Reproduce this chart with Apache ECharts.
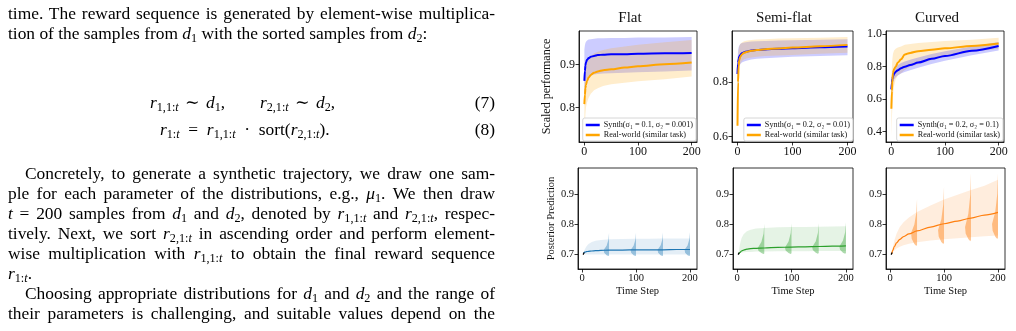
<!DOCTYPE html>
<html lang="en">
<head>
<meta charset="UTF-8" />
<title>Synthetic vs real-world curves</title>
<script src="https://cdn.jsdelivr.net/npm/echarts@6/dist/echarts.min.js"></script>
<style>
  body { margin: 0; background: #fff; }
  #main { position: absolute; left: 0; top: 0; width: 1016px; height: 331px; }
  #text { position: absolute; left: 0; top: 0; width: 510px; height: 331px;
          font-family: "Liberation Serif", "DejaVu Serif", serif; font-size: 17.4px; color: #000; }
  .ln { position: absolute; left: 8px; width: 487px; line-height: 20px; white-space: nowrap; }
  .j { text-align: justify; text-align-last: justify; }
  .ind { left: 25px; width: 470px; }
  .num { position: absolute; left: 440px; width: 55px; text-align: right; line-height: 20px; }
  sub { font-size: 70%; vertical-align: -0.28em; line-height: 0; }
  sub i { font-style: italic; }
  .eq { word-spacing: 2px; }
</style>
</head>
<body>
<div id="main"></div>
<div id="text">
  <div class="ln j" style="top:3px">time. The reward sequence is generated by element-wise multiplica-</div>
  <div class="ln" style="top:23px">tion of the samples from <i>d</i><sub>1</sub> with the sorted samples from <i>d</i><sub>2</sub>:</div>

  <div class="ln eq" style="top:92px;left:150px;width:auto"><i>r</i><sub>1,1:<i>t</i></sub> &#8764; <i>d</i><sub>1</sub>,&emsp;&emsp;<i>r</i><sub>2,1:<i>t</i></sub> &#8764; <i>d</i><sub>2</sub>,</div>
  <div class="num" style="top:92px">(7)</div>
  <div class="ln eq" style="top:119px;left:160px;width:auto"><i>r</i><sub>1:<i>t</i></sub>&ensp;=&ensp;<i>r</i><sub>1,1:<i>t</i></sub>&ensp;&middot;&ensp;sort(<i>r</i><sub>2,1:<i>t</i></sub>).</div>
  <div class="num" style="top:119px">(8)</div>

  <div class="ln j ind" style="top:163px">Concretely, to generate a synthetic trajectory, we draw one sam-</div>
  <div class="ln j" style="top:183px">ple for each parameter of the distributions, e.g., <i>&mu;</i><sub>1</sub>. We then draw</div>
  <div class="ln j" style="top:203px"><i>t</i> = 200 samples from <i>d</i><sub>1</sub> and <i>d</i><sub>2</sub>, denoted by <i>r</i><sub>1,1:<i>t</i></sub> and <i>r</i><sub>2,1:<i>t</i></sub>, respec-</div>
  <div class="ln j" style="top:223px">tively. Next, we sort <i>r</i><sub>2,1:<i>t</i></sub> in ascending order and perform element-</div>
  <div class="ln j" style="top:243px">wise multiplication with <i>r</i><sub>1,1:<i>t</i></sub> to obtain the final reward sequence</div>
  <div class="ln" style="top:263px"><i>r</i><sub>1:<i>t</i></sub>.</div>
  <div class="ln j ind" style="top:283px">Choosing appropriate distributions for <i>d</i><sub>1</sub> and <i>d</i><sub>2</sub> and the range of</div>
  <div class="ln j" style="top:303px">their parameters is challenging, and suitable values depend on the</div>
</div>
<script>
// ---- top row: scaled performance (x = step) ----
var topX = [0, 1, 2, 3, 5, 8, 12, 18, 25, 35, 50, 75, 100, 150, 200];

var flatSynth    = [0.862, 0.885, 0.898, 0.905, 0.911, 0.915, 0.918, 0.920, 0.922, 0.923, 0.924, 0.924, 0.925, 0.926, 0.927];
var flatSynthLo  = [0.800, 0.830, 0.850, 0.860, 0.868, 0.872, 0.875, 0.877, 0.878, 0.879, 0.880, 0.881, 0.882, 0.884, 0.886];
var flatSynthHi  = [0.935, 0.945, 0.950, 0.953, 0.956, 0.958, 0.959, 0.960, 0.961, 0.961, 0.962, 0.962, 0.963, 0.963, 0.964];
var flatReal     = [0.808, 0.830, 0.845, 0.853, 0.862, 0.870, 0.876, 0.881, 0.884, 0.887, 0.889, 0.893, 0.896, 0.901, 0.905];
var flatRealLo   = [0.722, 0.760, 0.785, 0.800, 0.812, 0.823, 0.832, 0.840, 0.845, 0.850, 0.854, 0.858, 0.861, 0.866, 0.872];
var flatRealHi   = [0.860, 0.875, 0.888, 0.895, 0.905, 0.913, 0.920, 0.926, 0.930, 0.934, 0.938, 0.942, 0.946, 0.952, 0.957];

var semiSynth    = [0.830, 0.870, 0.885, 0.893, 0.900, 0.906, 0.910, 0.913, 0.916, 0.918, 0.920, 0.923, 0.925, 0.928, 0.931];
var semiSynthLo  = [0.770, 0.820, 0.845, 0.858, 0.866, 0.872, 0.876, 0.880, 0.883, 0.886, 0.888, 0.891, 0.893, 0.896, 0.899];
var semiSynthHi  = [0.880, 0.915, 0.928, 0.934, 0.940, 0.944, 0.946, 0.948, 0.949, 0.950, 0.951, 0.953, 0.954, 0.956, 0.958];
var semiReal     = [0.640, 0.800, 0.860, 0.880, 0.893, 0.902, 0.908, 0.912, 0.915, 0.918, 0.921, 0.924, 0.927, 0.932, 0.937];
var semiRealLo   = [0.590, 0.740, 0.820, 0.850, 0.868, 0.878, 0.884, 0.888, 0.891, 0.893, 0.896, 0.898, 0.900, 0.904, 0.908];
var semiRealHi   = [0.700, 0.880, 0.915, 0.930, 0.940, 0.946, 0.950, 0.953, 0.955, 0.957, 0.958, 0.960, 0.961, 0.963, 0.966];

var curvSynth    = [0.660, 0.700, 0.725, 0.740, 0.755, 0.768, 0.778, 0.790, 0.800, 0.810, 0.825, 0.848, 0.866, 0.898, 0.927];
var curvSynthLo  = [0.620, 0.660, 0.690, 0.705, 0.720, 0.735, 0.745, 0.757, 0.767, 0.778, 0.793, 0.816, 0.836, 0.870, 0.900];
var curvSynthHi  = [0.700, 0.740, 0.760, 0.775, 0.790, 0.800, 0.810, 0.822, 0.832, 0.842, 0.857, 0.878, 0.895, 0.925, 0.952];
var curvReal     = [0.540, 0.650, 0.720, 0.760, 0.785, 0.800, 0.825, 0.845, 0.875, 0.885, 0.895, 0.905, 0.913, 0.928, 0.943];
var curvRealLo   = [0.370, 0.480, 0.560, 0.620, 0.680, 0.720, 0.745, 0.760, 0.780, 0.800, 0.815, 0.840, 0.860, 0.890, 0.910];
var curvRealHi   = [0.700, 0.800, 0.850, 0.880, 0.900, 0.910, 0.918, 0.925, 0.935, 0.940, 0.946, 0.952, 0.958, 0.966, 0.978];

// ---- bottom row: posterior prediction ----
var botX = [3, 5, 8, 12, 18, 25, 35, 50, 75, 100, 125, 150, 175, 200];

var flatPost     = [0.703, 0.706, 0.708, 0.709, 0.710, 0.711, 0.712, 0.713, 0.713, 0.714, 0.714, 0.714, 0.715, 0.715];
var flatPostLo   = [0.700, 0.699, 0.699, 0.698, 0.698, 0.698, 0.698, 0.698, 0.698, 0.698, 0.698, 0.698, 0.698, 0.698];
var flatPostHi   = [0.705, 0.715, 0.725, 0.733, 0.740, 0.744, 0.747, 0.749, 0.750, 0.751, 0.751, 0.752, 0.752, 0.752];
var semiPost     = [0.700, 0.705, 0.710, 0.713, 0.716, 0.718, 0.719, 0.720, 0.722, 0.723, 0.724, 0.725, 0.726, 0.727];
var semiPostLo   = [0.700, 0.703, 0.705, 0.706, 0.707, 0.707, 0.708, 0.708, 0.709, 0.709, 0.709, 0.710, 0.710, 0.710];
var semiPostHi   = [0.705, 0.730, 0.752, 0.766, 0.776, 0.781, 0.785, 0.787, 0.789, 0.790, 0.790, 0.791, 0.792, 0.793];
var curvPost     = [0.700, 0.712, 0.725, 0.737, 0.749, 0.758, 0.767, 0.777, 0.790, 0.801, 0.810, 0.820, 0.830, 0.839];
var curvPostLo   = [0.700, 0.705, 0.712, 0.718, 0.724, 0.729, 0.734, 0.739, 0.745, 0.749, 0.753, 0.756, 0.759, 0.762];
var curvPostHi   = [0.700, 0.720, 0.745, 0.768, 0.790, 0.806, 0.822, 0.840, 0.862, 0.882, 0.898, 0.914, 0.928, 0.948];

// violins: [step, low, bulge, high, width]
var flatViolins = [[50, 0.693, 0.713, 0.770, 10], [100, 0.693, 0.713, 0.771, 10], [150, 0.693, 0.714, 0.772, 10], [200, 0.693, 0.714, 0.773, 10]];
var semiViolins = [[50, 0.700, 0.720, 0.800, 12], [100, 0.700, 0.722, 0.802, 12], [150, 0.701, 0.723, 0.803, 12], [200, 0.701, 0.725, 0.805, 12]];
var curvViolins = [[50, 0.727, 0.770, 0.883, 11], [100, 0.733, 0.780, 0.924, 11], [150, 0.743, 0.790, 0.969, 11], [200, 0.750, 0.800, 0.969, 11]];

// first observed points (black)
var obsX = [2, 4];
var obsY = [0.698, 0.705];

var BLUE = '#0000ff', ORANGE = '#ffa500';
var FONT = '"Liberation Serif", "DejaVu Serif", serif';

function band(gi, xs, lo, hi, fill) {
  return {
    type: 'custom', xAxisIndex: gi, yAxisIndex: gi, silent: true, z: 1,
    data: xs.map(function (x, i) { return [x, lo[i], hi[i]]; }),
    renderItem: function (params, api) {
      if (params.dataIndex !== 0) return null;
      var pts = [];
      for (var i = 0; i < xs.length; i++) pts.push(api.coord([xs[i], hi[i]]));
      for (var j = xs.length - 1; j >= 0; j--) pts.push(api.coord([xs[j], lo[j]]));
      return { type: 'polygon', shape: { points: pts }, style: { fill: fill } };
    }
  };
}

function line(gi, name, xs, ys, color, width) {
  return {
    type: 'line', name: name, xAxisIndex: gi, yAxisIndex: gi, silent: true, z: 3,
    data: xs.map(function (x, i) { return [x, ys[i]]; }),
    symbol: 'none', smooth: 0.3, smoothMonotone: 'x',
    lineStyle: { color: color, width: width }, itemStyle: { color: color }
  };
}

function violins(gi, list, fill) {
  return {
    type: 'custom', xAxisIndex: gi, yAxisIndex: gi, silent: true, z: 2,
    data: list,
    renderItem: function (params, api) {
      var x = api.value(0), lo = api.value(1), pk = api.value(2), hi = api.value(3), w = api.value(4);
      var shape = [
        [x, hi], [x - 0.12 * w, pk + 0.6 * (hi - pk)], [x - 0.45 * w, pk + 0.25 * (hi - pk)],
        [x - w, pk], [x - 0.9 * w, pk - 0.45 * (pk - lo)], [x - 0.45 * w, lo + 0.15 * (pk - lo)],
        [x - 0.12 * w, lo], [x, lo + 0.1 * (pk - lo)]
      ];
      return { type: 'polygon', shape: { points: shape.map(function (p) { return api.coord(p); }) },
               style: { fill: fill } };
    }
  };
}

var grids = [
  { left: 579, top: 31, width: 118, height: 111 },
  { left: 732, top: 31, width: 121, height: 111 },
  { left: 886, top: 31, width: 118, height: 111 },
  { left: 578, top: 168, width: 119, height: 101 },
  { left: 733, top: 168, width: 120, height: 101 },
  { left: 886, top: 168, width: 119, height: 101 }
];
var xRanges = [[-10, 210], [-10, 210], [-10, 210], [-7.5, 213], [-7.5, 213], [-7.5, 213]];
var yRanges = [[0.72, 0.978], [0.58, 0.988], [0.335, 1.02], [0.65, 0.987], [0.65, 0.987], [0.65, 0.987]];
var yTicks = [[0.8, 0.9], [0.6, 0.8], [0.4, 0.6, 0.8, 1.0], [0.7, 0.8, 0.9], [0.7, 0.8, 0.9], [0.7, 0.8, 0.9]];
var xTicks = [0, 100, 200];

var xAxes = [], yAxes = [];
grids.forEach(function (g, i) {
  var top = i < 3;
  var fs = top ? 12 : 10.5;
  xAxes.push({
    type: 'value', gridIndex: i, min: xRanges[i][0], max: xRanges[i][1],
    name: top ? '' : 'Time Step', nameLocation: 'middle', nameGap: 17,
    nameTextStyle: { fontSize: 10.5, fontFamily: FONT, color: '#111' },
    axisLine: { show: true, onZero: false, lineStyle: { color: '#000', width: 0.8 } },
    axisTick: { show: true, length: 3.5, customValues: xTicks, lineStyle: { color: '#000', width: 0.8 } },
    axisLabel: { customValues: xTicks, margin: 4, fontSize: fs, fontFamily: FONT, color: '#111' },
    splitLine: { show: false }
  });
  yAxes.push({
    type: 'value', gridIndex: i, min: yRanges[i][0], max: yRanges[i][1],
    name: i === 0 ? 'Scaled performance' : (i === 3 ? 'Posterior Prediction' : ''),
    nameLocation: 'middle', nameGap: i === 0 ? 26 : 21,
    nameTextStyle: { fontSize: i === 0 ? 12 : 10.5, fontFamily: FONT, color: '#111' },
    axisLine: { show: true, onZero: false, lineStyle: { color: '#000', width: 0.8 } },
    axisTick: { show: true, length: 3.5, customValues: yTicks[i], lineStyle: { color: '#000', width: 0.8 } },
    axisLabel: { customValues: yTicks[i], margin: 4, fontSize: fs, fontFamily: FONT, color: '#111',
                 formatter: function (v) { return v.toFixed(1); } },
    splitLine: { show: false }
  });
});

var synthNames = ['Synth(\u03c3\u2081 = 0.1, \u03c3\u2082 = 0.001)', 'Synth(\u03c3\u2081 = 0.2, \u03c3\u2082 = 0.01)', 'Synth(\u03c3\u2081 = 0.2, \u03c3\u2082 = 0.1)'];
var realName = 'Real-world (similar task)';
var blueBand = 'rgba(0,0,255,0.2)', orangeBand = 'rgba(255,165,0,0.2)';

var series = [
  band(0, topX, flatSynthLo, flatSynthHi, blueBand),
  band(0, topX, flatRealLo, flatRealHi, orangeBand),
  line(0, synthNames[0], topX, flatSynth, BLUE, 2),
  line(0, realName, topX, flatReal, ORANGE, 2),

  band(1, topX, semiSynthLo, semiSynthHi, blueBand),
  band(1, topX, semiRealLo, semiRealHi, orangeBand),
  line(1, synthNames[1], topX, semiSynth, BLUE, 2),
  line(1, realName, topX, semiReal, ORANGE, 2),

  band(2, topX, curvRealLo, curvRealHi, orangeBand),
  band(2, topX, curvSynthLo, curvSynthHi, blueBand),
  line(2, synthNames[2], topX, curvSynth, BLUE, 2),
  line(2, realName, topX, curvReal, ORANGE, 2),

  band(3, botX, flatPostLo, flatPostHi, 'rgba(31,119,180,0.12)'),
  violins(3, flatViolins, 'rgba(31,119,180,0.4)'),
  line(3, 'flat posterior', botX, flatPost, '#1f77b4', 1.2),
  line(3, 'flat obs', obsX, obsY, '#000', 1.2),

  band(4, botX, semiPostLo, semiPostHi, 'rgba(44,160,44,0.12)'),
  violins(4, semiViolins, 'rgba(44,160,44,0.4)'),
  line(4, 'semi posterior', botX, semiPost, '#2ca02c', 1.2),
  line(4, 'semi obs', obsX, obsY, '#000', 1.2),

  band(5, botX, curvPostLo, curvPostHi, 'rgba(255,127,14,0.14)'),
  violins(5, curvViolins, 'rgba(255,127,14,0.45)'),
  line(5, 'curved posterior', botX, curvPost, '#ff7f0e', 1.2),
  line(5, 'curved obs', obsX, obsY, '#000', 1.2)
];

var legendRights = [320, 163, 13];
var legends = legendRights.map(function (r, i) {
  return {
    orient: 'vertical', right: r, top: 118, selectedMode: false,
    data: [{ name: synthNames[i] }, { name: realName }],
    icon: 'rect', itemWidth: 14, itemHeight: 2.5, itemGap: 2,
    padding: [3, 3, 2, 3], backgroundColor: 'rgba(255,255,255,0.85)',
    borderColor: '#cccccc', borderWidth: 0.8, borderRadius: 2,
    textStyle: { fontSize: 8.2, fontFamily: FONT, color: '#111', padding: [0, 0, 0, -1] }
  };
});

var titles = [['Flat', 630], ['Semi-flat', 784], ['Curved', 937]].map(function (t) {
  return { type: 'text', x: t[1], y: 18,
           style: { text: t[0], fontSize: 15, fontFamily: FONT, fill: '#111', align: 'center', verticalAlign: 'middle' } };
});

var chart = echarts.init(document.getElementById('main'), null, { renderer: 'canvas' });
chart.setOption({
  animation: false,
  textStyle: { fontFamily: FONT },
  grid: grids.map(function (g) { return Object.assign({ show: true, borderColor: '#000', borderWidth: 0.8, backgroundColor: 'transparent' }, g); }),
  xAxis: xAxes,
  yAxis: yAxes,
  legend: legends,
  graphic: titles,
  series: series
});
</script>
</body>
</html>
